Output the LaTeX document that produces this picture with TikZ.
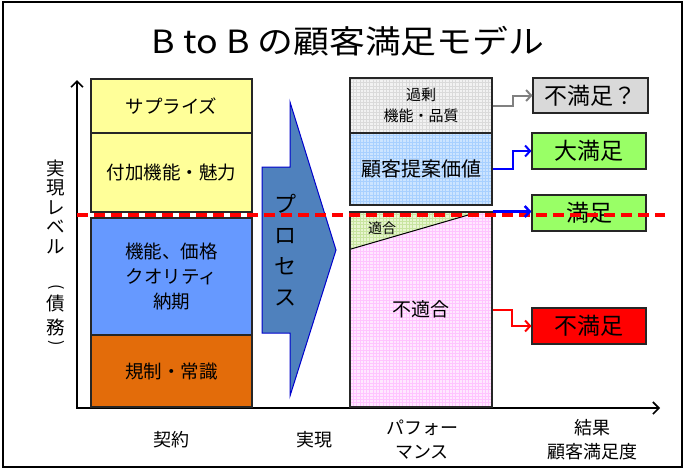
\documentclass[tikz,border=0pt]{standalone}
\usepackage{fontspec}
\setmainfont{Noto Sans CJK JP}
\usetikzlibrary{arrows.meta,backgrounds,calc}
\definecolor{yel}{HTML}{FFFF99}
\definecolor{blu}{HTML}{6699FF}
\definecolor{org}{HTML}{E36C0A}
\definecolor{proc}{HTML}{4F81BD}
\definecolor{procline}{HTML}{0000CC}
\definecolor{gry}{HTML}{D9D9D9}
\definecolor{grn}{HTML}{99FF66}
\definecolor{gbg}{HTML}{F2F2F2}
\definecolor{gln}{HTML}{DADADA}
\definecolor{lbbg}{HTML}{CCE4FF}
\definecolor{lbln}{HTML}{A8D0FF}
\definecolor{pkbg}{HTML}{FFE8FF}
\definecolor{pkln}{HTML}{FFC4FF}
\definecolor{lgbg}{HTML}{E8F5D0}
\definecolor{lgln}{HTML}{C8E4A0}
\newcommand{\gridrect}[4]{%
  \fill[#3] #1 rectangle #2;
  \begin{scope}\clip #1 rectangle #2;
  \draw[#4, line width=0.35pt, step=3.3pt] #1 grid #2;
  \end{scope}}
\begin{document}
\begin{tikzpicture}[x=1pt,y=-1pt,
  bx/.style={draw=black!85, line width=1.1pt, inner sep=0pt, align=center, font=\fontsize{18.5}{25}\selectfont},
  res/.style={draw=black!85, line width=1.1pt, inner sep=0pt, minimum width=114pt, minimum height=36pt, font=\fontsize{23}{26}\selectfont},
  ax/.style={line width=1.6pt, {Straight Barb[length=6pt,width=12pt]}-{Straight Barb[length=6pt,width=12pt]}},
  conn/.style={line width=2pt, -{Straight Barb[length=5pt,width=11pt]}},
  lbl/.style={font=\fontsize{18}{24}\selectfont, align=center},
  vch/.style={font=\fontsize{18.5}{19}\selectfont, inner sep=0pt}]
\useasboundingbox (0,0) rectangle (685,469);
\draw[line width=1.5pt] (3,2) rectangle (682,467);
% title
\node[font=\fontsize{32}{36}\selectfont] (title) at (348,41) {\scalebox{1.12}[1]{B to B の顧客満足モデル}};
% axes
\coordinate (O) at (77,408);
\coordinate (Ytop) at (77,80);
\coordinate (Xend) at (660,408);
\draw[ax] (Ytop) -- (O) -- (Xend);
% left column
\node[bx, fill=yel, minimum width=161pt, minimum height=54pt] (surp) at (171.5,106) {サプライズ};
\node[bx, fill=yel, minimum width=161pt, minimum height=79pt] (fuka) at (171.5,172.5) {付加機能・魅力};
\node[bx, fill=blu, minimum width=161pt, minimum height=117pt] (kino) at (171.5,276.5) {機能、価格\\クオリティ\\納期};
\node[bx, fill=org, minimum width=161pt, minimum height=72pt] (kisei) at (171.5,371) {規制・常識};
% process arrow
\draw[draw=procline, fill=proc, line width=1pt] (262,167) -- (290,167) -- (290,102) -- (336,250) -- (290,396) -- (290,333) -- (262,333) -- cycle;
\node[font=\fontsize{22}{31}\selectfont, align=center] (proctext) at (285,250) {プ\\ロ\\セ\\ス};
% middle column
\node[bx, minimum width=142pt, minimum height=55pt, font=\fontsize{15}{21}\selectfont] (kajo) at (421,105.5) {過剰\\機能・品質};
\node[bx, minimum width=142pt, minimum height=72pt, font=\fontsize{20}{24}\selectfont] (teian) at (421,169) {顧客提案価値};
\node[bx, minimum width=142pt, minimum height=195pt, font=\fontsize{19}{22}\selectfont] (perf) at (421,309.5) {不適合};
\node[font=\fontsize{14}{16}\selectfont] (tekigo) at (382,228) {適合};
\begin{scope}[on background layer]
  \gridrect{(kajo.south west)}{(kajo.north east)}{gbg}{gln}
  \gridrect{(teian.south west)}{(teian.north east)}{lbbg}{lbln}
  \gridrect{(perf.south west)}{(perf.north east)}{pkbg}{pkln}
  \coordinate (tA) at (perf.north west);
  \coordinate (tB) at ($(perf.north west)!0.915!(perf.north east)$);
  \coordinate (tC) at ($(perf.north west)+(0,38)$);
  \fill[lgbg] (tA) -- (tB) -- (tC) -- cycle;
  \begin{scope}
    \clip (tA) -- (tB) -- (tC) -- cycle;
    \draw[lgln, line width=0.35pt, step=3.3pt] (perf.north west) grid (tB |- tC);
  \end{scope}
  \draw[line width=1pt] (tC) -- (tB);
\end{scope}
% results
\node[res, fill=gry, minimum width=115pt, minimum height=35pt] (q) at (590.5,95.5) {不満足？};
\node[res, fill=grn] (dai) at (589,151) {大満足};
\node[res, fill=grn] (man) at (589,213) {満足};
\node[res, fill=red] (fu) at (589,326) {不満足};
% connectors
\draw[conn, draw=gray] (kajo.east) -- ++(20,0) |- (q.west);
\draw[conn, draw=blue] (teian.east) -- ++(20,0) |- (dai.west);
\draw[conn, draw=red] (perf.east) -- ++(19,0) |- (fu.west);
% red dashed line
\coordinate (dl) at (77,215);
\coordinate (dr) at (665,215);
\draw[red, line width=3.5pt, dash pattern=on 11pt off 6pt] (dl) -- (dr);
\coordinate (mstart) at ($(perf.north east |- man.west)+(0,-1.5)$);
\draw[conn, draw=blue, line width=2.5pt] (mstart) -- (mstart -| man.west);
% vertical label
\node[vch] (v1) at (56,168) {実};
\node[vch] (v2) at (56,188) {現};
\node[vch] (v3) at (56,208) {レ};
\node[vch] (v4) at (56,227) {ベ};
\node[vch] (v5) at (56,247) {ル};
\node[vch, rotate=-90, font=\fontsize{16}{18}\selectfont] (v6) at (56,287) {(};
\node[vch] (v7) at (56,304) {債};
\node[vch] (v8) at (56,327) {務};
\node[vch, rotate=-90, font=\fontsize{16}{18}\selectfont] (v9) at (56,343) {)};
% bottom labels
\node[lbl] (c1) at (171,440) {契約};
\node[lbl] (c2) at (314,440) {実現};
\node[lbl] (c3) at (422,440) {パフォー\\マンス};
\node[lbl] (c4) at (592,440) {結果\\顧客満足度};
\end{tikzpicture}
\end{document}
